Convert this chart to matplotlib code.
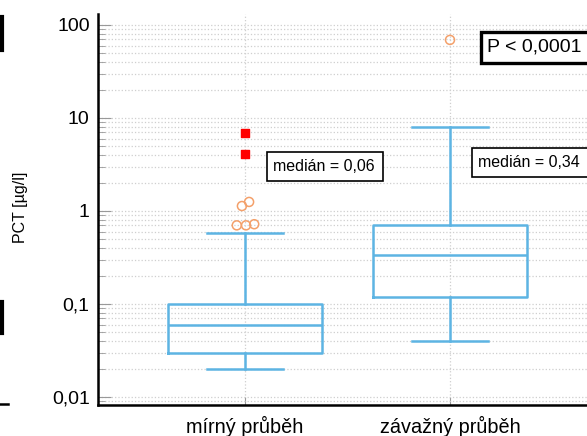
import matplotlib
matplotlib.use("Agg")
import matplotlib.pyplot as plt
from matplotlib.ticker import FixedLocator, LogLocator, NullFormatter
from matplotlib.lines import Line2D
from matplotlib.patches import Rectangle

plt.rcParams['font.family'] = ['Liberation Sans', 'DejaVu Sans']

# Data
groups = ["mírný průběh", "závažný průběh"]
q1 = [0.03, 0.12]
medians = [0.06, 0.34]
q3 = [0.10, 0.70]
whisker_lo = [0.02, 0.04]
whisker_hi = [0.58, 8.0]
median_labels = ["medián = 0,06", "medián = 0,34"]
p_label = "P < 0,0001"

# outliers (open circles) and far-out values (red squares)
out_x = [0.96, 1.005, 1.045, 0.985, 1.02, 2.0]
out_y = [0.70, 0.70, 0.72, 1.13, 1.25, 69.0]
far_x = [1.0, 1.0]
far_y = [6.9, 4.1]

ytick_vals = [0.01, 0.1, 1, 10, 100]
ytick_labels = ["0,01", "0,1", "1", "10", "100"]

BOX_COLOR = "#5db4e3"
OUT_COLOR = "#f4a06a"

fig = plt.figure(figsize=(5.87, 4.36), dpi=100)
# axes runs past the right edge like the reference crop
ax = fig.add_axes([98 / 587, 31 / 436, 499 / 587, 391 / 436])

stats = []
for i in range(len(groups)):
    stats.append({"med": medians[i], "q1": q1[i], "q3": q3[i],
                  "whislo": whisker_lo[i], "whishi": whisker_hi[i],
                  "fliers": [], "label": groups[i]})

ax.bxp(stats, positions=[1, 2], widths=0.75, showfliers=False,
       patch_artist=False,
       boxprops=dict(color=BOX_COLOR, linewidth=1.8),
       whiskerprops=dict(color=BOX_COLOR, linewidth=1.8),
       capprops=dict(color=BOX_COLOR, linewidth=1.8),
       medianprops=dict(color=BOX_COLOR, linewidth=1.8),
       capwidths=0.37)

ax.scatter(out_x, out_y, s=42, facecolors="none", edgecolors=OUT_COLOR,
           linewidths=1.1, zorder=4)
ax.scatter(far_x, far_y, s=40, marker="s", color="red", zorder=4)

ax.set_yscale("log")
ax.set_ylim(0.0082, 131)
ax.set_xlim(0.283, 2.717)

ax.yaxis.set_major_locator(FixedLocator(ytick_vals))
ax.set_yticklabels(ytick_labels, fontsize=14)
ax.yaxis.set_minor_locator(LogLocator(base=10, subs=range(2, 10)))
ax.yaxis.set_minor_formatter(NullFormatter())
ax.set_xticks([1, 2])
ax.set_xticklabels(groups, fontsize=14.3)

ax.grid(True, which="both", axis="y", color="#cfcfcf", linestyle=":", linewidth=0.9)
ax.grid(True, which="major", axis="x", color="#cfcfcf", linestyle=":", linewidth=0.9)
ax.set_axisbelow(True)

ax.tick_params(axis="y", which="major", direction="in", length=9, color="#999999",
               pad=6)
ax.tick_params(axis="y", which="minor", direction="in", length=5, color="#999999")
ax.tick_params(axis="x", which="major", direction="in", length=6, color="#999999",
               pad=8)

for side in ["top", "right"]:
    ax.spines[side].set_visible(False)
ax.spines["left"].set_linewidth(1.8)
ax.spines["bottom"].set_linewidth(1.8)

ax.set_ylabel("PCT [µg/l]", fontsize=11.5)
ax.yaxis.set_label_coords(-0.140, 0.506)

# annotation boxes (axes fraction: x0, y0, w, h, text x)
def label_box(x0, y0, w, h, tx, text, size, lw):
    ax.add_patch(Rectangle((x0, y0), w, h, transform=ax.transAxes,
                           fc="white", ec="black", lw=lw, zorder=5,
                           clip_on=False))
    ax.text(tx, y0 + h / 2, text, transform=ax.transAxes, fontsize=size,
            ha="left", va="center", zorder=6)

label_box(0.339, 0.573, 0.232, 0.074, 0.351, median_labels[0], 11.5, 1.2)
# these two run off the right edge of the crop, as in the reference
label_box(0.750, 0.583, 0.260, 0.074, 0.761, median_labels[1], 11.5, 1.2)
label_box(0.768, 0.875, 0.240, 0.079, 0.779, p_label, 14, 2.4)

# fragments of the neighbouring chart at the left edge of the crop
fig.add_artist(Line2D([1.5 / 587, 1.5 / 587], [1 - 17 / 436, 1 - 50 / 436],
                      color="black", lw=3))
fig.add_artist(Line2D([1.5 / 587, 1.5 / 587], [1 - 302 / 436, 1 - 333 / 436],
                      color="black", lw=3))
fig.add_artist(Line2D([0, 8 / 587], [1 - 404 / 436, 1 - 404 / 436],
                      color="black", lw=1.8))

fig.savefig("out.png", dpi=100)
